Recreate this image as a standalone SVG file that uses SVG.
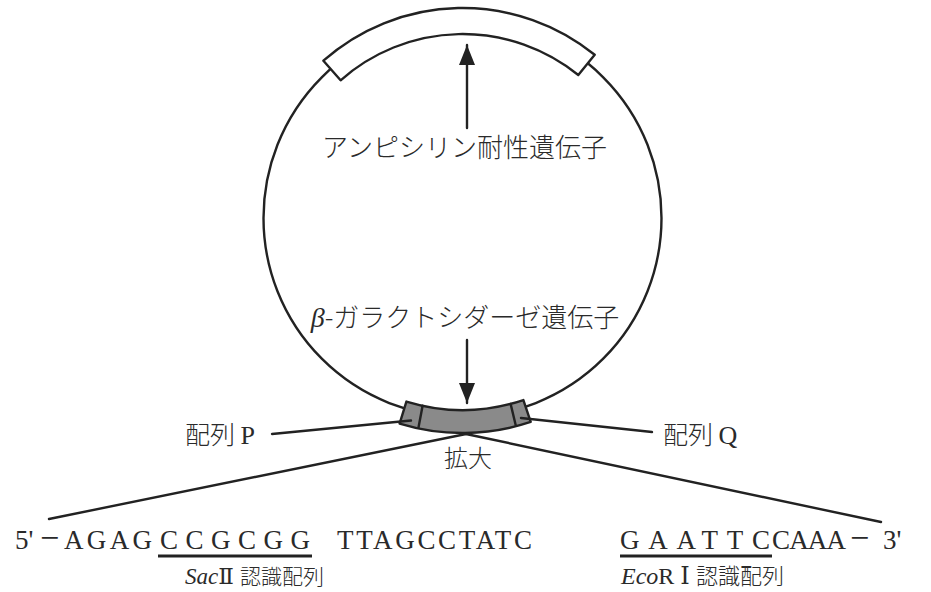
<svg xmlns="http://www.w3.org/2000/svg" width="931" height="592" viewBox="0 0 931 592">
<style>
.ln{fill:none;stroke:#222;stroke-width:2.4;stroke-linecap:round;stroke-linejoin:round}
.bx{stroke:#222;stroke-width:2.4;stroke-linejoin:round}
.jp{font-family:"Noto Sans CJK JP","Noto Sans CJK SC",sans-serif;font-weight:300;fill:#2a2a2a}
.se{font-family:"Liberation Serif","DejaVu Serif","Noto Sans CJK JP",serif;fill:#2a2a2a}
.sq{font-size:27px}
.mn{font-size:34px}
.it{font-style:italic}
</style>
<defs>
<marker id="ah" viewBox="0 0 20 16" refX="20" refY="8" markerWidth="20" markerHeight="16" markerUnits="userSpaceOnUse" orient="auto">
<path d="M0,0 L20,8 L0,16 Z" fill="#222"/>
</marker>
</defs>
<rect width="931" height="592" fill="#fff"/>

<g id="plasmid">
<circle cx="462.5" cy="218" r="199" class="ln"/>
</g>

<g id="ampR">
<path class="bx" fill="#fff" d="M323.4,60.7 A210,210 0 0 1 594.7,54.8 L578.3,75 A184,184 0 0 0 340.6,80.3 Z"/>
<text class="jp" x="464.5" y="157" font-size="26" text-anchor="middle">アンピシリン耐性遺伝子</text>
</g>

<g id="lacZ">
<text class="jp" x="465" y="327" font-size="26" text-anchor="middle"><tspan class="se it" font-size="28">β</tspan>-ガラクトシダーゼ遺伝子</text>
<path class="bx" fill="#8a8a8a" d="M406.4,401.6 A192,192 0 0 0 523.4,400.1 L530.7,421.9 A215,215 0 0 1 399.6,423.6 Z"/>
<line class="ln" x1="422.6" y1="405.8" x2="418.5" y2="427.5"/>
<line class="ln" x1="510.6" y1="403.9" x2="515.8" y2="425.5"/>
</g>

<g id="labels">
<text class="jp" x="185" y="444" font-size="25">配列 <tspan class="se" font-size="26">P</tspan></text>
<text class="jp" x="663" y="444" font-size="25">配列 <tspan class="se" font-size="26">Q</tspan></text>
<text class="jp" x="468" y="467" font-size="24" text-anchor="middle">拡大</text>
</g>

<g id="sequence">
<text class="se sq" x="15" y="549">5'</text>
<text class="se mn" x="40" y="549">−</text>
<text class="se sq" x="64" y="549" textLength="88" lengthAdjust="spacing">AGAG</text>
<text class="se sq" x="160" y="549" textLength="150" lengthAdjust="spacing">CCGCGG</text>
<text class="se sq" x="337" y="549" textLength="195" lengthAdjust="spacing">TTAGCCTATC</text>
<text class="se sq" x="620" y="549" textLength="150" lengthAdjust="spacing">GAATTC</text>
<text class="se sq" x="772" y="549" textLength="74" lengthAdjust="spacing">CAAA</text>
<text class="se mn" x="850" y="549">−</text>
<text class="se sq" x="883" y="549">3'</text>
<line x1="158" y1="556" x2="312" y2="556" stroke="#222" stroke-width="3"/>
<line x1="620" y1="556" x2="772" y2="556" stroke="#222" stroke-width="3"/>
<text class="se" x="185" y="584" font-size="23"><tspan class="it">Sac</tspan>Ⅱ</text>
<text class="jp" x="240" y="584" font-size="21">認識配列</text>
<text class="se" x="621" y="584" font-size="24"><tspan class="it">Eco</tspan>R Ⅰ</text>
<text class="jp" x="696" y="584" font-size="22">認識配列</text>
</g>

<g id="connectors">
<line class="ln" x1="467" y1="128" x2="467" y2="45" marker-end="url(#ah)"/>
<line class="ln" x1="467" y1="340" x2="467" y2="403" marker-end="url(#ah)"/>
<line class="ln" x1="272" y1="434" x2="411" y2="420.5"/>
<line class="ln" x1="521" y1="418" x2="652" y2="432"/>
<line class="ln" x1="466" y1="434" x2="49" y2="519"/>
<line class="ln" x1="466" y1="434" x2="881" y2="522"/>
</g>
</svg>
